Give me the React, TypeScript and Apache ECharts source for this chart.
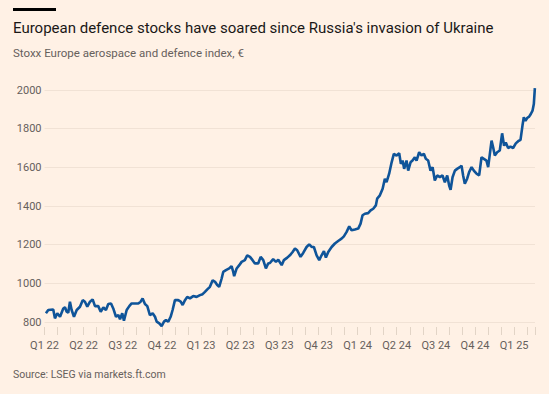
import React, { useEffect, useRef } from "react";
import * as echarts from "echarts";

// Months elapsed since 1 Jan 2022
const months: number[] = [
  0.11, 0.29, 0.67, 0.8, 0.98, 1.19, 1.44, 1.57, 1.7, 1.82, 1.95, 2.08, 2.26, 2.47, 2.72, 2.93,
  3.1, 3.28, 3.49, 3.69, 3.87, 4.12, 4.31, 4.51, 4.71, 4.89, 5.1, 5.27, 5.48, 5.66, 5.79, 5.96,
  6.09, 6.3, 6.5, 6.68, 6.93, 7.19, 7.37, 7.52, 7.7, 7.88, 8.08, 8.29, 8.47, 8.6, 8.8, 8.98,
  9.16, 9.31, 9.49, 9.67, 9.82, 10.0, 10.25, 10.44, 10.59, 10.77, 10.94, 11.15, 11.4, 11.66, 11.92,
  12.12, 12.3, 12.48, 12.68, 12.89, 13.07, 13.24, 13.39, 13.58, 13.7, 13.91, 14.16, 14.34, 14.47,
  14.54, 14.73, 14.93, 15.11, 15.36, 15.54, 15.75, 15.95, 16.13, 16.38, 16.57, 16.77, 16.97, 17.15,
  17.28, 17.53, 17.74, 17.92, 18.18, 18.35, 18.61, 18.81, 19.02, 19.2, 19.37, 19.63, 19.83, 20.09,
  20.29, 20.48, 20.65, 20.86, 21.06, 21.24, 21.42, 21.57, 21.75, 22.01, 22.26, 22.51, 22.77, 22.95,
  23.16, 23.36, 23.54, 23.79, 24.05, 24.23, 24.38, 24.56, 24.81, 25.0, 25.2, 25.4, 25.5, 25.71,
  25.92, 26.09, 26.22, 26.42, 26.61, 26.78, 26.99, 27.19, 27.32, 27.45, 27.57, 27.75, 27.88, 28.06,
  28.21, 28.39, 28.52, 28.72, 28.9, 29.08, 29.23, 29.41, 29.59, 29.75, 29.92, 30.1, 30.31, 30.51,
  30.69, 30.87, 31.02, 31.13, 31.28, 31.46, 31.63, 31.84, 31.97, 32.09, 32.22, 32.4, 32.55, 32.74,
  32.91, 33.12, 33.32, 33.5, 33.68, 33.88, 34.01, 34.14, 34.27, 34.39, 34.52, 34.7, 34.9, 35.08,
  35.23, 35.36, 35.54, 35.72, 35.92, 36.13, 36.31, 36.49, 36.64, 36.74, 36.87, 37.0, 37.15, 37.28,
  37.41, 37.51, 37.59,
];

// Stoxx Europe aerospace and defence index, €
const indexValues: number[] = [
  845, 862, 865, 819, 845, 827, 870, 876, 853, 848, 905, 862, 827, 862, 879, 913,
  905, 879, 905, 917, 882, 882, 853, 876, 862, 893, 896, 870, 827, 836, 814, 845,
  807, 862, 882, 896, 896, 896, 905, 922, 893, 882, 836, 845, 827, 802, 793, 779,
  802, 810, 802, 827, 862, 913, 913, 905, 888, 913, 930, 922, 934, 930, 939,
  944, 956, 969, 982, 1016, 1008, 991, 982, 1025, 1059, 1068, 1077, 1089, 1059,
  1037, 1077, 1094, 1111, 1120, 1145, 1137, 1120, 1103, 1103, 1137, 1120, 1077, 1103,
  1105, 1125, 1111, 1122, 1094, 1120, 1133, 1145, 1162, 1180, 1171, 1137, 1157, 1188,
  1202, 1188, 1188, 1145, 1120, 1145, 1167, 1133, 1162, 1188, 1206, 1219, 1231, 1243,
  1266, 1295, 1274, 1278, 1283, 1309, 1352, 1360, 1363, 1377, 1386, 1403, 1438, 1455,
  1489, 1541, 1523, 1567, 1626, 1670, 1661, 1673, 1618, 1635, 1592, 1635, 1583, 1626,
  1635, 1652, 1635, 1678, 1661, 1670, 1644, 1635, 1583, 1601, 1532, 1558, 1549, 1558,
  1523, 1558, 1506, 1484, 1549, 1583, 1592, 1601, 1609, 1558, 1515, 1541, 1575, 1601,
  1583, 1567, 1558, 1652, 1644, 1635, 1601, 1670, 1738, 1704, 1661, 1678, 1687, 1776,
  1712, 1729, 1700, 1707, 1700, 1724, 1735, 1742, 1816, 1859, 1841, 1855, 1862, 1876,
  1893, 1927, 2010,
];

const quarterLabels: string[] = [
  "Q1 22", "Q2 22", "Q3 22", "Q4 22",
  "Q1 23", "Q2 23", "Q3 23", "Q4 23",
  "Q1 24", "Q2 24", "Q3 24", "Q4 24",
  "Q1 25",
];

const yTicks = { min: 800, max: 2000, interval: 200 };
const monthsShown = 37.6;

const TITLE = "European defence stocks have soared since Russia's invasion of Ukraine";
const SUBTITLE = "Stoxx Europe aerospace and defence index, €";
const SOURCE = "Source: LSEG via markets.ft.com";

const FONT = "Roboto, sans-serif";

export default function App() {
  const ref = useRef<HTMLDivElement>(null);

  useEffect(() => {
    if (!ref.current) return;
    const chart = echarts.init(ref.current, undefined, { renderer: "svg" });
    const data = months.map((m, i) => [m, indexValues[i]]);
    chart.setOption({
      animation: false,
      backgroundColor: "#FFF1E5",
      grid: { left: 44.5, right: 14, top: 90, bottom: 72, containLabel: false },
      graphic: [
        { type: "rect", shape: { x: 13, y: 8, width: 43, height: 3 }, style: { fill: "#000000" } },
        {
          type: "text", x: 13, y: 27.5,
          style: { text: TITLE, fill: "#1a1817", font: `15px ${FONT}`, verticalAlign: "middle" },
        },
        {
          type: "text", x: 13, y: 52.5,
          style: { text: SUBTITLE, fill: "#66605c", font: `11.5px ${FONT}`, verticalAlign: "middle" },
        },
        {
          type: "text", x: 13, y: 374,
          style: { text: SOURCE, fill: "#66605c", font: `10.5px ${FONT}`, verticalAlign: "middle" },
        },
      ],
      xAxis: {
        type: "value",
        min: 0,
        max: monthsShown,
        interval: 1,
        offset: 5,
        axisLine: { show: false },
        axisTick: { show: true, length: 8, lineStyle: { color: "#e2d4c6", width: 1 } },
        splitLine: { show: false },
        axisLabel: {
          margin: 13,
          color: "#66605c",
          fontSize: 11,
          fontFamily: FONT,
          showMaxLabel: true,
          formatter: (v: number) => {
            if (Math.abs(v - Math.round(v)) > 1e-6) return "";
            const r = Math.round(v);
            return r % 3 === 0 ? quarterLabels[r / 3] ?? "" : "";
          },
        },
      },
      yAxis: {
        type: "value",
        min: yTicks.min,
        max: yTicks.max,
        interval: yTicks.interval,
        axisLine: { show: false },
        axisTick: { show: false },
        splitLine: { lineStyle: { color: "#f1e2d5", width: 1 } },
        axisLabel: {
          margin: 3,
          color: "#66605c",
          fontSize: 11,
          fontFamily: FONT,
          formatter: (v: number) => String(v),
        },
      },
      series: [
        {
          type: "line",
          data,
          showSymbol: false,
          clip: false,
          lineStyle: { color: "#0f5499", width: 2.6 },
          itemStyle: { color: "#0f5499" },
        },
      ],
    });
    return () => chart.dispose();
  }, []);

  return (
    <div
      ref={ref}
      style={{ position: "absolute", left: 0, top: 0, width: 549, height: 394 }}
    />
  );
}
